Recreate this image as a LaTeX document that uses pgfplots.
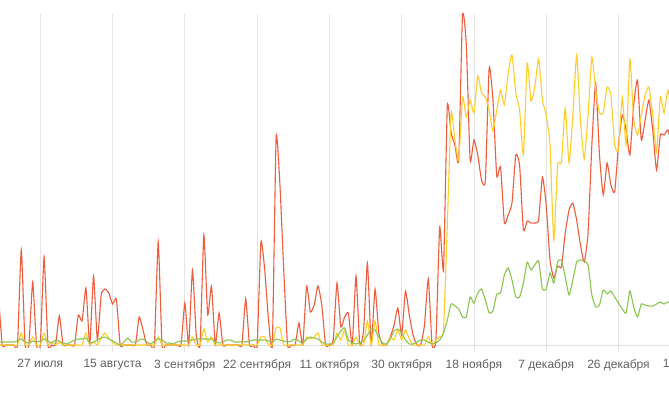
\documentclass[border=0pt]{standalone}
\usepackage{pgfplots}
\usepackage{pgfplotstable}
\pgfplotsset{compat=1.18}
\usepackage{fontspec}
\setmainfont{Liberation Sans}
\definecolor{cred}{RGB}{240,92,62}
\definecolor{cyel}{RGB}{255,206,40}
\definecolor{cgrn}{RGB}{140,198,80}
\pgfplotstableread{
d red yel grn
-11 50 0 3
-10 0 0 3
-9 0 0 3
-8 0 0 3
-7 0 0 3
-6 0 0 4
-5 95 12 6
-4 0 0 3
-3 0 0 2
-2 63 8 4
-1 0 0 3
0 0 0 4
1 88 12 6
2 0 0 4
3 0 3 2
4 0 0 5
5 29 3 4
6 0 0 2
7 0 0 1
8 0 0 3
9 0 0 5
10 30 0 6
11 24 0 6
12 57 12 7
13 0 0 2
14 69 3 3
15 5 0 5
16 50 7 7
17 56 12 8
18 52 7 6
19 41 3 4
20 46 0 2
21 0 0 0
22 0 0 3
23 0 0 7
24 0 0 3
25 0 0 3
26 28 0 5
27 15 0 6
28 0 0 3
29 0 0 1
30 0 0 4
31 103 8 6
32 0 0 5
33 0 0 2
34 0 0 2
35 0 0 1
36 0 0 3
37 0 0 4
38 42 0 4
39 0 0 4
40 75 8 5
41 10 0 6
42 0 0 6
43 110 16 6
44 30 3 6
45 59 8 6
46 0 0 3
47 32 0 2
48 0 0 3
49 0 0 5
50 0 0 5
51 0 0 3
52 0 0 3
53 0 0 3
54 46 0 3
55 0 0 4
56 0 0 5
57 0 0 5
58 103 8 5
59 75 8 5
60 25 0 4
61 0 0 3
62 208 17 6
63 160 17 5
64 75 0 4
65 0 0 3
66 0 0 4
67 0 0 6
68 22 0 4
69 0 0 2
70 59 8 6
71 33 6 8
72 40 8 7
73 59 12 6
74 40 0 3
75 0 0 1
76 0 0 1
77 5 0 2
78 62 12 8
79 18 5 14
80 28 15 17
81 32 0 5
82 0 0 2
83 69 8 1
84 0 0 2
85 15 0 4
86 82 24 10
87 0 0 16
88 56 24 15
89 12 0 8
90 0 0 2
91 0 0 1
92 8 8 6
93 20 5 14
94 37 15 16
95 10 5 12
96 54 15 5
97 30 6 1
98 10 0 1
99 0 0 3
100 0 0 5
101 20 0 5
102 66 8 3
103 0 0 1
104 5 5 2
105 118 8 5
106 75 15 12
107 239 120 25
108 212 232 41
109 200 205 39
110 185 185 36
111 331 248 28
112 300 228 28
113 185 245 48
114 205 232 42
115 190 269 52
116 165 252 56
117 164 248 45
118 277 235 32
119 245 214 34
120 169 235 51
121 178 255 52
122 122 240 70
123 130 272 77
124 142 290 65
125 190 252 48
126 180 235 48
127 115 190 62
128 124 282 83
129 122 244 75
130 122 258 80
131 125 286 84
132 168 245 56
133 140 230 56
134 85 200 72
135 67 105 62
136 79 180 83
137 78 183 85
138 112 237 68
139 135 182 50
140 142 230 65
141 125 290 83
142 100 225 85
143 83 186 84
144 112 230 80
145 200 288 50
146 262 255 38
147 190 232 40
148 150 232 55
149 182 258 51
150 160 250 54
151 153 200 48
152 200 195 42
153 230 248 36
154 215 200 32
155 190 286 54
156 240 225 38
157 265 210 28
158 205 230 41
159 225 250 40
160 245 258 39
161 215 230 39
162 175 193 41
163 210 248 43
164 210 232 41
165 215 255 43
166 200 230 42
}\datatable
\begin{document}
\begin{tikzpicture}
\useasboundingbox (0,0) rectangle (669pt,400pt);
\fill[white] (0,0) rectangle (669pt,400pt);
\clip (0,0) rectangle (669pt,400pt);
\begin{axis}[
  scale only axis, width=696.1pt, height=333pt,
  at={(-1.54pt,53pt)}, anchor=south west,
  xmin=-11, xmax=172, ymin=-2, ymax=331,
  axis y line=none, axis x line*=middle,
  x axis line style={draw=black!13, line width=0.8pt, -},
  xtick={0,19,...,171},
  xticklabels={27 июля, 15 августа, 3 сентября, 22 сентября, 11 октября, 30 октября, 18 ноября, 7 декабря, 26 декабря, 14 января},
  xmajorgrids, major grid style={draw=black!10, line width=0.8pt},
  tick align=outside, major tick length=7pt,
  xtick style={draw=black!10, line width=0.8pt},
  xticklabel style={font=\fontsize{12}{14}\selectfont, text=black!62, yshift=-4pt},
  every axis plot/.append style={line width=1.1pt, smooth, tension=0.3, mark=none},
]
\addplot[cred] table[x=d, y=red] {\datatable};
\addplot[cyel] table[x=d, y=yel] {\datatable};
\addplot[cgrn] table[x=d, y=grn] {\datatable};
\end{axis}
\end{tikzpicture}
\end{document}
